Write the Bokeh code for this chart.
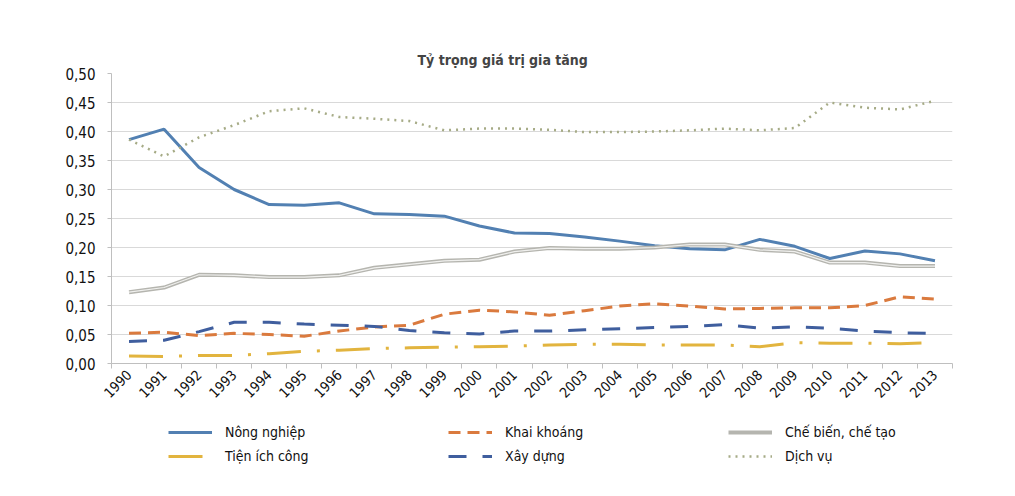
import math
from bokeh.plotting import figure
from bokeh.layouts import column
from bokeh.models import FixedTicker, CustomJSTickFormatter, Legend, LegendItem, Range1d
from bokeh.embed import file_html
from bokeh.resources import INLINE

years = list(range(1990, 2014))
nong_nghiep = [0.386, 0.404, 0.338, 0.300, 0.274, 0.273, 0.277, 0.258, 0.257, 0.254, 0.237, 0.225,
               0.224, 0.218, 0.211, 0.203, 0.198, 0.196, 0.214, 0.202, 0.181, 0.194, 0.189, 0.177]
khai_khoang = [0.052, 0.054, 0.048, 0.052, 0.050, 0.047, 0.056, 0.063, 0.066, 0.085, 0.092, 0.089,
               0.083, 0.091, 0.099, 0.103, 0.099, 0.094, 0.095, 0.096, 0.096, 0.100, 0.115, 0.111]
che_bien = [0.123, 0.131, 0.153, 0.152, 0.149, 0.149, 0.152, 0.165, 0.171, 0.177, 0.179, 0.193,
            0.199, 0.198, 0.198, 0.200, 0.205, 0.205, 0.196, 0.193, 0.174, 0.174, 0.168, 0.168]
tien_ich = [0.013, 0.012, 0.014, 0.014, 0.017, 0.021, 0.023, 0.026, 0.027, 0.028, 0.029, 0.030,
            0.032, 0.033, 0.033, 0.032, 0.032, 0.032, 0.029, 0.036, 0.035, 0.035, 0.034, 0.036]
xay_dung = [0.038, 0.040, 0.055, 0.071, 0.071, 0.068, 0.066, 0.064, 0.057, 0.053, 0.051, 0.056,
            0.056, 0.058, 0.060, 0.062, 0.064, 0.067, 0.061, 0.063, 0.061, 0.056, 0.053, 0.052]
dich_vu = [0.386, 0.357, 0.390, 0.411, 0.435, 0.440, 0.425, 0.422, 0.418, 0.402, 0.405, 0.405,
           0.403, 0.399, 0.399, 0.400, 0.402, 0.405, 0.402, 0.406, 0.450, 0.441, 0.438, 0.453]
y_ticks = [0.0, 0.05, 0.10, 0.15, 0.20, 0.25, 0.30, 0.35, 0.40, 0.45, 0.50]
series_names = ["Nông nghiệp", "Khai khoáng", "Chế biến, chế tạo",
                "Tiện ích công", "Xây dựng", "Dịch vụ"]
title_text = "Tỷ trọng giá trị gia tăng"

FONT = "DejaVu Sans Condensed"

styles = [
    dict(line_color="#5280B2", line_width=3),
    dict(line_color="#DA7A3E", line_width=3, line_dash="12 7"),
    dict(line_color="#B5B5AF", line_width=4),
    dict(line_color="#E2B43E", line_width=3, line_dash="34 16 3 16"),
    dict(line_color="#3F5E9E", line_width=3, line_dash="18 16"),
    dict(line_color="#A6AB86", line_width=2.5, line_dash="2 5"),
]
series = [nong_nghiep, khai_khoang, che_bien, tien_ich, xay_dung, dich_vu]

fig = figure(width=999, height=412, output_backend="svg", toolbar_location=None,
             x_range=Range1d(years[0] - 0.5, years[-1] + 0.5),
             y_range=Range1d(y_ticks[0], y_ticks[-1]),
             min_border_left=111, min_border_right=47, min_border_top=73, min_border_bottom=49)
fig.outline_line_color = None
fig.background_fill_color = "white"
fig.border_fill_color = "white"

fig.title.text = title_text
fig.title.align = "left"
fig.title.text_font = FONT
fig.title.text_font_size = "14px"
fig.title.text_font_style = "bold"
fig.title.offset = 306
fig.title.standoff = 12

ax = fig.xaxis[0]
ax.ticker = FixedTicker(ticks=years, minor_ticks=[y - 0.5 for y in years] + [years[-1] + 0.5])
ax.major_label_orientation = math.pi / 4
ax.major_tick_out = 0
ax.major_tick_in = 0
ax.minor_tick_out = 5
ax.minor_tick_in = 0
ax.minor_tick_line_color = "#BFBFBF"
ax.axis_line_color = "#BFBFBF"
ax.major_label_text_font = FONT
ax.major_label_text_font_size = "14px"
ax.major_label_text_color = "#111111"
ax.major_label_standoff = 4

ay = fig.yaxis[0]
ay.ticker = FixedTicker(ticks=y_ticks)
ay.formatter = CustomJSTickFormatter(code="return tick.toFixed(2).replace('.', ',');")
ay.major_tick_out = 4
ay.major_tick_in = 0
ay.minor_tick_out = 0
ay.minor_tick_in = 0
ay.major_tick_line_color = "#BFBFBF"
ay.axis_line_color = "#BFBFBF"
ay.major_label_text_font = FONT
ay.major_label_text_font_size = "15px"
ay.major_label_text_color = "#111111"
ay.major_label_standoff = 12

fig.xgrid.visible = False
fig.ygrid.ticker = FixedTicker(ticks=y_ticks[1:])
fig.ygrid.grid_line_color = "#D9D9D9"
fig.ygrid.grid_line_width = 1

for vals, st in zip(series, styles):
    fig.line(years, vals, **st)
    if vals is che_bien:
        fig.line(years, vals, line_color="#F0F0EE", line_width=1.2)

# legend panel below the chart (frames aligned with the chart above)
leg = figure(width=999, height=68, output_backend="svg", toolbar_location=None,
             x_axis_type=None, y_axis_type=None,
             x_range=Range1d(0, 1), y_range=Range1d(0, 1),
             min_border_left=111, min_border_right=47, min_border_top=0, min_border_bottom=0)
leg.outline_line_color = None
leg.xgrid.visible = False
leg.ygrid.visible = False
leg.background_fill_color = "white"
leg.border_fill_color = "white"

items = []
for name, st in zip(series_names, styles):
    # legend-only renderer: a single undefined point, nothing is drawn in the frame
    r = leg.line(x=[float("nan")], y=[float("nan")], **st)
    items.append(LegendItem(label=name, renderers=[r]))

legend = Legend(items=items, location=(57, 14), nrows=2, orientation="horizontal")
legend.border_line_color = None
legend.background_fill_alpha = 0
legend.padding = 0
legend.margin = 0
legend.spacing = 4
legend.glyph_width = 44
legend.glyph_height = 20
legend.label_height = 20
legend.label_standoff = 13
legend.label_width = 219
legend.label_text_font = FONT
legend.label_text_font_size = "14px"
legend.label_text_color = "#111111"
leg.add_layout(legend, "center")

p = column(fig, leg, spacing=0)

open("out.html", "w").write(file_html(p, INLINE))
